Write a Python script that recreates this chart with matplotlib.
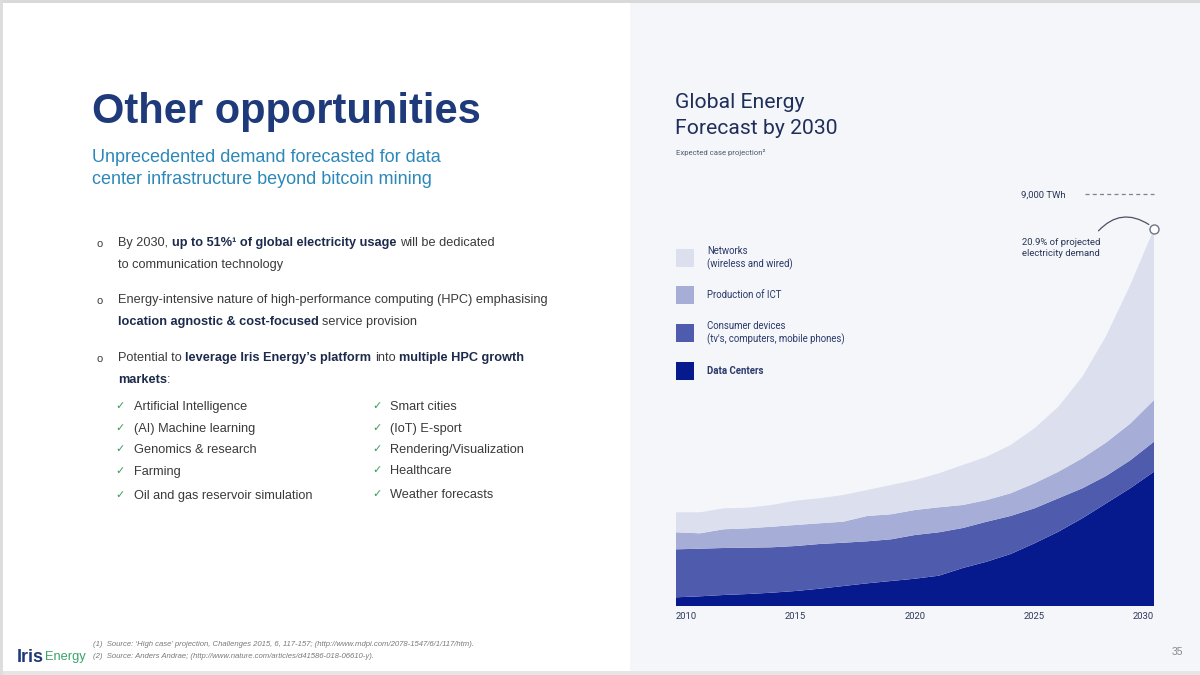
import matplotlib
matplotlib.use("Agg")
import matplotlib.pyplot as plt
from matplotlib.patches import Rectangle

# ---------------- data (TWh) ----------------
years = [2010, 2011, 2012, 2013, 2014, 2015, 2016, 2017, 2018, 2019, 2020,
         2021, 2022, 2023, 2024, 2025, 2026, 2027, 2028, 2029, 2030]
data_centers = [190, 212, 241, 262, 291, 328, 378, 437, 496, 547, 597,
                663, 831, 969, 1137, 1371, 1625, 1918, 2246, 2574, 2937]
consumer_devices = [1050, 1041, 1028, 1013, 993, 984, 978, 947, 919, 912, 956,
                    949, 875, 875, 832, 766, 731, 656, 600, 610, 657]
production_ict = [372, 337, 409, 424, 450, 460, 453, 460, 554, 547, 547,
                  547, 503, 474, 496, 547, 581, 657, 731, 803, 912]
networks = [437, 459, 459, 451, 475, 531, 547, 584, 568, 641, 656,
            743, 875, 948, 1056, 1203, 1422, 1784, 2331, 3025, 3744]
series_names = ["Data Centers", "Consumer devices\n(tv's, computers, mobile phones)",
                "Production of ICT", "Networks\n(wireless and wired)"]
tick_years = [2010, 2015, 2020, 2025, 2030]
target_twh = 9000
share_label = "20.9% of projected\nelectricity demand"

colors = ["#061A8E", "#4F5CAE", "#A6AED8", "#DCE0EE"]

W, H = 1200, 675
fig = plt.figure(figsize=(12, 6.75), dpi=100)
fig.patch.set_facecolor("white")
renderer = fig.canvas.get_renderer()


def fx(x):
    return x / W


def fy(y):
    return 1 - y / H


# background panels / frame
fig.add_artist(Rectangle((fx(630), 0), 570 / W, 1, transform=fig.transFigure,
                         facecolor="#F4F6FA", edgecolor="none", zorder=0))
fig.add_artist(Rectangle((0, fy(3)), 1, 3 / H, transform=fig.transFigure,
                         facecolor="#D9D9D9", edgecolor="none", zorder=1))
fig.add_artist(Rectangle((0, 0), 1, 4 / H, transform=fig.transFigure,
                         facecolor="#E6E6E6", edgecolor="none", zorder=1))
fig.add_artist(Rectangle((0, 0), 3 / W, 1, transform=fig.transFigure,
                         facecolor="#DDDDDD", edgecolor="none", zorder=1))

LEFT_FONT = "Liberation Sans"
RIGHT_FONT = "Roboto"

# ---------------- left panel ----------------
fig.text(fx(92), fy(112), "Other opportunities", fontsize=30, fontweight="bold",
         color="#1F3A7A", family=LEFT_FONT, va="center", ha="left")
fig.text(fx(92), fy(157), "Unprecedented demand forecasted for data",
         fontsize=13.0, color="#2C88B9", family=LEFT_FONT, va="center")
fig.text(fx(92), fy(180), "center infrastructure beyond bitcoin mining",
         fontsize=13.0, color="#2C88B9", family=LEFT_FONT, va="center")

REG = "#3A3A3A"
BOLD = "#1C2A4C"
BSIZE = 9.2


def rich_line(x, y, segments, size=BSIZE):
    gap = size * 100 / 72 * 0.278
    for txt, weight in segments:
        t = fig.text(fx(x), fy(y), txt, fontsize=size, fontweight=weight,
                     color=BOLD if weight == "bold" else REG, family=LEFT_FONT,
                     va="center", ha="left")
        x += t.get_window_extent(renderer).width + gap
    return x - gap


bullets = [
    (243, [[("By 2030,", "normal"), ("up to 51%¹ of global electricity usage", "bold"),
            ("will be dedicated", "normal")],
           [("to communication technology", "normal")]]),
    (300, [[("Energy-intensive nature of high-performance computing (HPC) emphasising", "normal")],
           [("location agnostic & cost-focused", "bold"), ("service provision", "normal")]]),
    (358, [[("Potential to", "normal"), ("leverage Iris Energy’s platform", "bold"),
            ("into", "normal"), ("multiple HPC growth", "bold")],
           [("markets", "bold")]]),
]
end_x = None
for y0, lines in bullets:
    fig.text(fx(100), fy(y0 + 1), "o", fontsize=8, color=REG, family=LEFT_FONT,
             va="center", ha="center")
    for k, segs in enumerate(lines):
        end_x = rich_line(118, y0 + 22 * k, segs)
# colon after "markets"
fig.text(fx(end_x), fy(380), ":", fontsize=BSIZE, color=REG,
         family=LEFT_FONT, va="center")

left_items = ["Artificial Intelligence", "(AI) Machine learning", "Genomics & research",
              "Farming", "Oil and gas reservoir simulation"]
right_items = ["Smart cities", "(IoT) E-sport", "Rendering/Visualization",
               "Healthcare", "Weather forecasts"]
left_ys = [407, 429, 450, 472, 496]
right_ys = [407, 429, 450, 471, 495]
for items, ys, xc, xt in [(left_items, left_ys, 120, 134), (right_items, right_ys, 377, 390)]:
    for item, yy in zip(items, ys):
        fig.text(fx(xc), fy(yy - 1), "✓", fontsize=8, color="#3A9A5E",
                 family="DejaVu Sans", va="center", ha="center")
        fig.text(fx(xt), fy(yy), item, fontsize=BSIZE, color=REG,
                 family=LEFT_FONT, va="center")

# footnotes + logo
fig.text(fx(93), fy(645), "(1)  Source: ‘High case’ projection, Challenges 2015, 6, 117-157; "
         "(http://www.mdpi.com/2078-1547/6/1/117/htm).",
         fontsize=5.6, style="italic", color="#7A7A7A", family=LEFT_FONT, va="center")
fig.text(fx(93), fy(657), "(2)  Source: Anders Andrae; (http://www.nature.com/articles/d41586-018-06610-y).",
         fontsize=5.6, style="italic", color="#7A7A7A", family=LEFT_FONT, va="center")
t_iris = fig.text(fx(17), fy(662), "Iris", fontsize=13, fontweight="bold", color="#1F3A7A",
                  family=LEFT_FONT, va="baseline")
iris_w = t_iris.get_window_extent(renderer).width
fig.text(fx(17 + iris_w + 1), fy(660), "Energy", fontsize=9.3, color="#3AA36A",
         family=LEFT_FONT, va="baseline")
fig.text(fx(1177), fy(652), "35", fontsize=7.5, color="#8A8A8A",
         family=LEFT_FONT, va="center", ha="center")

# ---------------- right panel ----------------
fig.text(fx(675), fy(102), "Global Energy", fontsize=15.2, color="#1F2F5A",
         family=RIGHT_FONT, va="center")
fig.text(fx(675), fy(128), "Forecast by 2030", fontsize=15.2, color="#1F2F5A",
         family=RIGHT_FONT, va="center")
fig.text(fx(676), fy(153), "Expected case projection²", fontsize=5.6,
         color="#505A70", family=RIGHT_FONT, va="center")

ax = fig.add_axes([fx(676), fy(606), 478 / W, (606 - 194.5) / H])
ax.set_facecolor("#F4F6FA")
ax.patch.set_alpha(0)
ax.stackplot(years, data_centers, consumer_devices, production_ict, networks,
             colors=colors, linewidth=0)
ax.set_xlim(years[0], years[-1])
ax.set_ylim(0, target_twh)
for s in ax.spines.values():
    s.set_visible(False)
ax.set_yticks([])
ax.set_xticks(tick_years)
ax.set_xticklabels([str(y) for y in tick_years], fontsize=6.8, color="#2F3A58",
                   family=RIGHT_FONT)
ax.tick_params(axis="x", length=0, pad=4.5)
labs = ax.get_xticklabels()
labs[0].set_ha("left")
labs[-1].set_ha("right")

total = [a + b + c + d for a, b, c, d in zip(data_centers, consumer_devices,
                                              production_ict, networks)]
ax.plot([years[-1]], [total[-1]], "o", ms=6.5, mfc="white", mec="#6E7488",
        mew=1.0, clip_on=False, zorder=6)
ax.annotate("", xy=(years[-1] - 0.12, total[-1] + 60), xytext=(2027.6, 8160),
            arrowprops=dict(arrowstyle="-", color="#4A5068", lw=0.9,
                            connectionstyle="arc3,rad=-0.45"),
            annotation_clip=False)
ax.plot([2027.1, years[-1]], [target_twh, target_twh], color="#7A8098", lw=0.9,
        ls=(0, (3.2, 2.6)), clip_on=False)
fig.text(fx(1021), fy(195), "9,000 TWh", fontsize=6.8, color="#2A3656",
         family=RIGHT_FONT, va="center")
fig.text(fx(1022), fy(248), share_label, fontsize=6.8, color="#2A3656",
         family=RIGHT_FONT, va="center", linespacing=1.25)

# legend
leg_order = [3, 2, 1, 0]
leg_y = [258, 295, 333, 371]
for idx, yy in zip(leg_order, leg_y):
    fig.add_artist(Rectangle((fx(676), fy(yy + 9)), 18 / W, 18 / H,
                             transform=fig.transFigure, facecolor=colors[idx],
                             edgecolor="none"))
    fig.text(fx(707), fy(yy), series_names[idx], fontsize=6.95, color="#2A3A6A",
             family=RIGHT_FONT, va="center", linespacing=1.2,
             fontweight="bold" if idx == 0 else "normal")

fig.savefig("out.png", dpi=100, facecolor=fig.get_facecolor())
